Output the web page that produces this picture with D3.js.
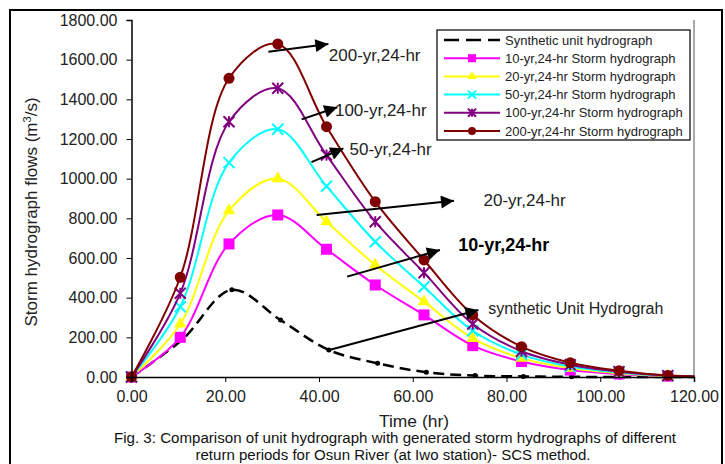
<!DOCTYPE html>
<html>
<head>
<meta charset="utf-8">
<script src="https://cdn.jsdelivr.net/npm/d3@7"></script>
<style>
  body { margin: 0; background: #fff; }
  svg { display: block; font-family: "Liberation Sans", Arial, sans-serif; }
</style>
</head>
<body>
<div id="chart"></div>
<script>
// data
var hours = [0, 10.4, 20.8, 31.2, 41.6, 52, 62.4, 72.8, 83.2, 93.6, 104, 114.4, 124.8];
var unitHours = [0, 10.9, 21.4, 31.8, 42.1, 52.5, 62.9, 73.3, 83.6, 93.9, 104.2, 114.6, 125];
var unitFlow = [0, 190, 440, 287, 136, 69, 24, 7, 3, 1, 0, 0, 0];
var flow10 = [0, 200, 671, 817, 644, 464, 313, 158, 78, 35, 15, 4, 0];
var flow20 = [0, 267, 839, 1000, 783, 565, 380, 195, 95, 45, 19, 5, 0];
var flow50 = [0, 354, 1081, 1249, 962, 682, 455, 233, 113, 53, 23, 6, 1];
var flow100 = [0, 422, 1287, 1456, 1119, 783, 526, 267, 130, 62, 27, 7, 1];
var flow200 = [0, 503, 1506, 1679, 1262, 884, 590, 313, 153, 72, 32, 8, 1];
var seriesNames = ["Synthetic unit hydrograph", "10-yr,24-hr Storm hydrograph", "20-yr,24-hr Storm hydrograph",
  "50-yr,24-hr Storm hydrograph", "100-yr,24-hr Storm hydrograph", "200-yr,24-hr Storm hydrograph"];
var xTicks = [0, 20, 40, 60, 80, 100, 120];
var yTicks = [0, 200, 400, 600, 800, 1000, 1200, 1400, 1600, 1800];
// annotation arrows in data units: [fromX, fromY, toX, toY, textX, textY, label]
var notes = [
  [29.2, 1640, 42.0, 1679, 42.1, 1624, "200-yr,24-hr"],
  [36.3, 1299, 43.9, 1360, 43.4, 1346, "100-yr,24-hr"],
  [38.4, 1083, 45.2, 1153, 46.5, 1148, "50-yr,24-hr"],
  [39.5, 817, 68.8, 889, 75.1, 892, "20-yr,24-hr"],
  [46.0, 506, 65.8, 640, 69.7, 666, "10-yr,24-hr"],
  [42.2, 136, 74.0, 338, 76.1, 346, "synthetic Unit Hydrograh"]
];

var width = 725, height = 464;
var svg = d3.select("#chart").append("svg")
  .attr("width", width).attr("height", height);

var x = d3.scaleLinear().domain([0, 120]).range([131.5, 694]);
var y = d3.scaleLinear().domain([0, 1800]).range([377, 20]);

// outer frame
svg.append("rect").attr("x", 10).attr("y", 10).attr("width", 712).attr("height", 480)
  .attr("fill", "none").attr("stroke", "#000").attr("stroke-width", 2);

// plot area right edge
svg.append("line").attr("x1", 694).attr("x2", 694).attr("y1", 20).attr("y2", 377)
  .attr("stroke", "#8c8c8c").attr("stroke-width", 1.5);

svg.append("defs").append("clipPath").attr("id", "clip")
  .append("rect").attr("x", 110).attr("y", 0).attr("width", 584.5).attr("height", 400);

var series = [
  { name: seriesNames[0], xs: unitHours, ys: unitFlow, color: "#000", mark: "dot", dash: "11,6", w: 2.5 },
  { name: seriesNames[1], xs: hours, ys: flow10, color: "#ff00ff", mark: "square", w: 2 },
  { name: seriesNames[2], xs: hours, ys: flow20, color: "#ffff00", mark: "triangle", w: 2 },
  { name: seriesNames[3], xs: hours, ys: flow50, color: "#00ffff", mark: "cross", w: 2 },
  { name: seriesNames[4], xs: hours, ys: flow100, color: "#800080", mark: "star", w: 2 },
  { name: seriesNames[5], xs: hours, ys: flow200, color: "#800000", mark: "circle", w: 2 }
];

function drawMark(g, type, color, s) {
  if (type == "square") {
    g.append("rect").attr("x", -s / 2).attr("y", -s / 2).attr("width", s).attr("height", s).attr("fill", color);
  } else if (type == "triangle") {
    g.append("path").attr("d", d3.symbol(d3.symbolTriangle, s * s * 0.55)).attr("fill", color);
  } else if (type == "circle") {
    g.append("circle").attr("r", s / 2).attr("fill", color);
  } else if (type == "dot") {
    g.append("circle").attr("r", s / 2).attr("fill", color);
  } else {
    var h = s / 2;
    g.append("path").attr("d", "M" + -h + "," + -h + "L" + h + "," + h + "M" + -h + "," + h + "L" + h + "," + -h)
      .attr("stroke", color).attr("stroke-width", 2).attr("fill", "none");
    if (type == "star") {
      g.append("path").attr("d", "M0," + -h + "L0," + h)
        .attr("stroke", color).attr("stroke-width", 2);
    }
  }
}

var plot = svg.append("g").attr("clip-path", "url(#clip)");
var line = d3.line().curve(d3.curveCatmullRom.alpha(0.5));

series.forEach(function (s) {
  var pts = s.xs.map(function (d, i) { return [x(d), y(s.ys[i])]; });
  plot.append("path").attr("d", line(pts))
    .attr("fill", "none").attr("stroke", s.color).attr("stroke-width", s.w)
    .attr("stroke-dasharray", s.dash || null);
  pts.forEach(function (p) {
    var g = plot.append("g").attr("transform", "translate(" + p[0] + "," + p[1] + ")");
    drawMark(g, s.mark, s.color, s.mark == "dot" ? 5 : 11);
  });
});

// axes
var yAxis = svg.append("g").attr("transform", "translate(131.5,0)")
  .call(d3.axisLeft(y).tickValues(yTicks).tickFormat(d3.format(".2f")).tickSizeOuter(0).tickSize(5).tickPadding(9));
var xAxis = svg.append("g").attr("transform", "translate(0,377)")
  .call(d3.axisBottom(x).tickValues(xTicks).tickFormat(d3.format(".2f")).tickSizeOuter(0).tickSize(5).tickPadding(9));
[yAxis, xAxis].forEach(function (a) {
  a.select(".domain").attr("stroke", "#000").attr("stroke-width", 1.5);
  a.selectAll(".tick line").attr("stroke", "#000");
  a.selectAll("text").attr("font-size", 16).attr("fill", "#222")
    .attr("font-family", "Liberation Sans, Arial, sans-serif");
});

// axis titles
var yl = svg.append("text").attr("transform", "translate(37,212) rotate(-90)")
  .attr("text-anchor", "middle").attr("font-size", 17).attr("fill", "#222");
yl.append("tspan").text("Storm hydrograph flows (m");
yl.append("tspan").attr("font-size", 11).attr("dy", -6).text("3");
yl.append("tspan").attr("dy", 6).text("/s)");

svg.append("text").attr("x", 414).attr("y", 427).attr("text-anchor", "middle")
  .attr("font-size", 16).attr("fill", "#222").attr("textLength", 70).attr("lengthAdjust", "spacingAndGlyphs")
  .text("Time (hr)");

svg.append("text").attr("x", 395).attr("y", 443).attr("text-anchor", "middle")
  .attr("font-size", 14).attr("fill", "#111").attr("textLength", 562).attr("lengthAdjust", "spacingAndGlyphs")
  .text("Fig. 3: Comparison of unit hydrograph with generated storm hydrographs of different");
svg.append("text").attr("x", 393).attr("y", 460).attr("text-anchor", "middle")
  .attr("font-size", 14).attr("fill", "#111").attr("textLength", 395).attr("lengthAdjust", "spacingAndGlyphs")
  .text("return periods for Osun River (at Iwo station)- SCS method.");

// annotations
svg.append("defs").append("marker").attr("id", "arrow")
  .attr("viewBox", "0 0 10 10").attr("refX", 10).attr("refY", 5)
  .attr("markerWidth", 7.5).attr("markerHeight", 6.5).attr("markerUnits", "strokeWidth")
  .attr("orient", "auto")
  .append("path").attr("d", "M0,0L10,5L0,10Z").attr("fill", "#000");

notes.forEach(function (n, i) {
  svg.append("line").attr("x1", x(n[0])).attr("y1", y(n[1])).attr("x2", x(n[2])).attr("y2", y(n[3]))
    .attr("stroke", "#000").attr("stroke-width", 2).attr("marker-end", "url(#arrow)");
  svg.append("text").attr("x", x(n[4])).attr("y", y(n[5])).attr("dy", "0.35em")
    .attr("font-size", i == 4 ? 18 : (i == 5 ? 16 : 17))
    .attr("font-weight", i == 4 ? "bold" : null)
    .attr("fill", i == 4 ? "#000" : "#222").text(n[6]);
});

// legend
var legend = svg.append("g").attr("transform", "translate(437,30)");
legend.append("rect").attr("width", 253).attr("height", 110)
  .attr("fill", "#fff").attr("stroke", "#000").attr("stroke-width", 1.2);
series.forEach(function (s, i) {
  var row = legend.append("g").attr("transform", "translate(0," + (10 + i * 18.2) + ")");
  row.append("line").attr("x1", 7).attr("x2", 63).attr("stroke", s.color)
    .attr("stroke-width", s.w).attr("stroke-dasharray", s.dash ? "15,7" : null);
  if (s.mark != "dot") {
    var g = row.append("g").attr("transform", "translate(35,0)");
    drawMark(g, s.mark, s.color, 8);
  }
  row.append("text").attr("x", 68).attr("dy", "0.35em").attr("font-size", 13)
    .attr("fill", "#222").text(s.name);
});
</script>
</body>
</html>
